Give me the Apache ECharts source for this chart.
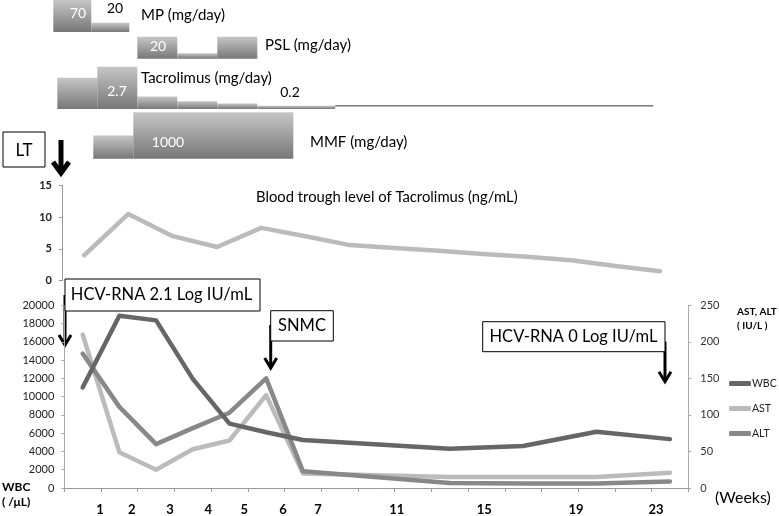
<!DOCTYPE html>
<html><head><meta charset="utf-8">
<script src="https://cdn.jsdelivr.net/npm/echarts@6/dist/echarts.min.js"></script>
<style>html,body{margin:0;padding:0;background:#fff}#c{width:779px;height:516px}</style>
</head><body><div id="c"></div>
<script>
// ---- Drug doses: [start, end, dose] (x in week units from LT) ----
const mpDose  = [[-0.1, 0.85, 70], [0.85, 1.8, 20]];
const pslDose = [[2, 3, 20], [3, 4, 5], [4, 5, 20]];
const tacDose = [[0, 1, 2.0], [1, 2, 2.7], [2, 3, 0.8], [3, 4, 0.5], [4, 5, 0.35], [5, 6.95, 0.2]];
const tacTail = [[6.95, 14.9, 0.2]];
const mmfDose = [[0.9, 1.9, 500], [1.9, 5.9, 1000]];
const doseMax = [70, 20, 2.7, 1000];

// ---- Blood trough level of Tacrolimus (ng/mL) ----
const troughCats  = ['t1','t2','t3','t4','t5','t6','t7','t8','t9','t10','t11','t12','t13','t14'];
const troughLevel = [4.0, 10.5, 7.0, 5.3, 8.3, 7.0, 5.6, 5.15, 4.7, 4.2, 3.75, 3.2, 2.3, 1.5];

// ---- Laboratory data ----
const labCats = ['c1','c2','c3','c4','c5','c6','c7','c8','c9','c10','c11','c12','c13','c14','c15','c16','c17'];
const wbc = [11000, 18850, 18350, 11950, 7050, 6100, 5250, null, null, null, 4300, null, 4600, null, 6150, null, 5350];
const ast = [210, 49, 25, 53, 65, 127, 20, null, null, null, 15, null, 15, null, 15, null, 21];
const alt = [184, 111, 60, 82, 103, 150, 23, null, null, null, 7, null, 6, null, 6, null, 9];
const weekLabels   = ['1','2','3','4','5','6','7','11','15','19','23'];
const weekLabelPos = [0.97, 1.84, 2.88, 3.92, 4.9, 5.96, 6.91, 9.06, 11.44, 13.94, 16.12];

const FONT = 'Lato';
const chart = echarts.init(document.getElementById('c'));

const grad = () => new echarts.graphic.LinearGradient(0, 0, 0, 1, [
  {offset: 0, color: '#c6c6c6'}, {offset: 1, color: '#777777'}]);

function barItem(params, api) {
  const p0 = api.coord([api.value(0), 0]);
  const p1 = api.coord([api.value(1), api.value(2)]);
  return {type: 'rect',
    shape: {x: p0[0], y: p1[1], width: p1[0] - p0[0], height: p0[1] - p1[1]},
    style: {fill: grad()}};
}
function tailItem(params, api) {
  const p0 = api.coord([api.value(0), api.value(2)]);
  const p1 = api.coord([api.value(1), api.value(2)]);
  return {type: 'line', shape: {x1: p0[0], y1: p0[1], x2: p1[0], y2: p1[1]},
    style: {stroke: '#333', lineWidth: 1}};
}

const drugGrids = [
  {left: 17.3, width: 720, top: 0, height: 32},
  {left: 17.3, width: 720, top: 36.7, height: 22},
  {left: 17.3, width: 720, top: 66.7, height: 42.3},
  {left: 17.3, width: 720, top: 112.3, height: 46.4}
];

function arrow(x, y1, y2, lw, hw, hh) {
  return {type: 'group', z: 120, children: [
    {type: 'line', shape: {x1: x, y1: y1, x2: x, y2: y2 - 2}, style: {stroke: '#000', lineWidth: lw}},
    {type: 'polyline', shape: {points: [[x - hw, y2 - hh], [x, y2], [x + hw, y2 - hh]]},
     style: {stroke: '#000', lineWidth: lw, fill: null, lineJoin: 'miter'}}
  ]};
}
function box(x, y, w, h) {
  return {type: 'rect', z: 110, shape: {x: x, y: y, width: w, height: h},
    style: {fill: '#fff', stroke: '#000', lineWidth: 1}};
}
function txt(x, y, s, size, opts) {
  return Object.assign({type: 'text', z: 130, x: x, y: y,
    style: Object.assign({text: s, font: size + 'px ' + FONT, fill: '#000',
      textVerticalAlign: 'middle', textAlign: 'left'}, (opts || {}))});
}

const lineStyle = (c) => ({width: 4.5, color: c, cap: 'round', join: 'round'});
const plain = (v) => String(v);

const option = {
  animation: false,
  grid: [
    ...drugGrids,
    {left: 62, width: 620, top: 185.3, height: 95.4},
    {left: 64.3, width: 624, top: 305.3, height: 186}
  ],
  xAxis: [
    ...[0,1,2,3].map(i => ({type: 'value', gridIndex: i, min: -1, max: 17, show: false})),
    {type: 'category', gridIndex: 4, data: troughCats, boundaryGap: true, show: false},
    {type: 'category', gridIndex: 5, data: labCats, boundaryGap: true,
     axisLine: {lineStyle: {color: '#999', width: 1}},
     axisTick: {show: true, length: 4, lineStyle: {color: '#999'}},
     axisLabel: {show: false}},
    {type: 'value', gridIndex: 5, min: 0, max: 17, position: 'bottom',
     axisLine: {show: false}, axisTick: {show: false}, splitLine: {show: false},
     axisLabel: {customValues: weekLabelPos, margin: 15,
       formatter: (v) => { const k = weekLabelPos.indexOf(v); return k >= 0 ? weekLabels[k] : ''; },
       fontFamily: FONT, fontSize: 13, fontWeight: 'bold', color: '#000'}}
  ],
  yAxis: [
    ...[0,1,2,3].map(i => ({type: 'value', gridIndex: i, min: 0, max: doseMax[i], show: false})),
    {type: 'value', gridIndex: 4, min: 0, max: 15, interval: 5,
     axisLine: {show: true, lineStyle: {color: '#999'}},
     axisTick: {show: true, length: 3, lineStyle: {color: '#999'}},
     splitLine: {show: false},
     axisLabel: {margin: 10, fontFamily: FONT, fontSize: 11, fontWeight: 'bold', color: '#222', formatter: plain}},
    {type: 'value', gridIndex: 5, min: 0, max: 20000, interval: 2000,
     axisLine: {show: true, lineStyle: {color: '#aaa'}},
     axisTick: {show: true, length: 3, lineStyle: {color: '#aaa'}},
     splitLine: {show: false},
     axisLabel: {margin: 10, fontFamily: FONT, fontSize: 11, color: '#222', formatter: plain}},
    {type: 'value', gridIndex: 5, position: 'right', min: 0, max: 250, interval: 50,
     axisLine: {show: true, lineStyle: {color: '#aaa'}},
     axisTick: {show: true, length: 3, lineStyle: {color: '#aaa'}},
     splitLine: {show: false},
     axisLabel: {margin: 12, fontFamily: FONT, fontSize: 11, color: '#333', formatter: plain}}
  ],
  legend: {
    orient: 'vertical', left: 729, top: 378, itemWidth: 22, itemHeight: 5, itemGap: 14,
    icon: 'roundRect', padding: 0,
    textStyle: {fontFamily: FONT, fontSize: 10.5, color: '#222', padding: [0, 0, 0, -4]},
    data: ['WBC', 'AST', 'ALT']
  },
  series: [
    {type: 'custom', xAxisIndex: 0, yAxisIndex: 0, renderItem: barItem, data: mpDose, encode: {x: [0, 1], y: 2}},
    {type: 'custom', xAxisIndex: 1, yAxisIndex: 1, renderItem: barItem, data: pslDose, encode: {x: [0, 1], y: 2}},
    {type: 'custom', xAxisIndex: 2, yAxisIndex: 2, renderItem: barItem, data: tacDose, encode: {x: [0, 1], y: 2}},
    {type: 'custom', xAxisIndex: 2, yAxisIndex: 2, renderItem: tailItem, data: tacTail, encode: {x: [0, 1], y: 2}},
    {type: 'custom', xAxisIndex: 3, yAxisIndex: 3, renderItem: barItem, data: mmfDose, encode: {x: [0, 1], y: 2}},
    {type: 'line', name: 'Trough', xAxisIndex: 4, yAxisIndex: 4, data: troughLevel,
     showSymbol: false, lineStyle: lineStyle('#bbbbbb'), itemStyle: {color: '#bbbbbb'}},
    {type: 'line', name: 'WBC', xAxisIndex: 5, yAxisIndex: 5, data: wbc, connectNulls: true,
     showSymbol: false, lineStyle: lineStyle('#666666'), itemStyle: {color: '#666666'}, z: 4},
    {type: 'line', name: 'AST', xAxisIndex: 5, yAxisIndex: 6, data: ast, connectNulls: true,
     showSymbol: false, lineStyle: lineStyle('#bbbbbb'), itemStyle: {color: '#bbbbbb'}, z: 2},
    {type: 'line', name: 'ALT', xAxisIndex: 5, yAxisIndex: 6, data: alt, connectNulls: true,
     showSymbol: false, lineStyle: lineStyle('#888888'), itemStyle: {color: '#888888'}, z: 3}
  ],
  graphic: [
    txt(141, 15, 'MP (mg/day)', 15),
    txt(265, 45, 'PSL (mg/day)', 15),
    txt(141, 78, 'Tacrolimus (mg/day)', 15),
    txt(310, 142, 'MMF (mg/day)', 15),
    txt(78, 13, '70', 14, {fill: '#fff', textAlign: 'center'}),
    txt(115, 8, '20', 14, {textAlign: 'center'}),
    txt(158, 46, '20', 14, {fill: '#fff', textAlign: 'center'}),
    txt(117, 91, '2.7', 14, {fill: '#fff', textAlign: 'center'}),
    txt(290, 92, '0.2', 14, {textAlign: 'center'}),
    txt(168, 142, '1000', 14, {fill: '#fff', textAlign: 'center'}),
    box(3, 132, 42, 35),
    txt(24, 151, 'LT', 17, {textAlign: 'center'}),
    arrow(61, 140, 173, 5, 8, 11),
    txt(256, 197, 'Blood trough level of Tacrolimus (ng/mL)', 14.8),
    box(65, 279, 195, 32),
    txt(161.5, 295, 'HCV-RNA 2.1 Log IU/mL', 16.5, {textAlign: 'center'}),
    arrow(65, 295, 345, 3, 6, 10),
    box(270.7, 310.7, 62.6, 30.3),
    txt(302, 326, 'SNMC', 16.5, {textAlign: 'center'}),
    arrow(270.7, 325, 368, 3, 6, 10),
    box(482.7, 321.7, 182.3, 30),
    txt(573.5, 336.7, 'HCV-RNA 0 Log IU/mL', 16.5, {textAlign: 'center'}),
    arrow(665, 341.7, 381.7, 3, 6, 10),
    txt(2, 487, 'WBC', 12, {font: 'bold 12px ' + FONT}),
    txt(2, 502, '( /μL)', 12, {font: 'bold 12px ' + FONT}),
    txt(737, 312, 'AST, ALT', 10, {font: 'bold 10px ' + FONT}),
    txt(737, 326, '( IU/L )', 10, {font: 'bold 10px ' + FONT}),
    txt(715, 498, '(Weeks)', 16)
  ]
};
chart.setOption(option);
</script>
</body></html>
